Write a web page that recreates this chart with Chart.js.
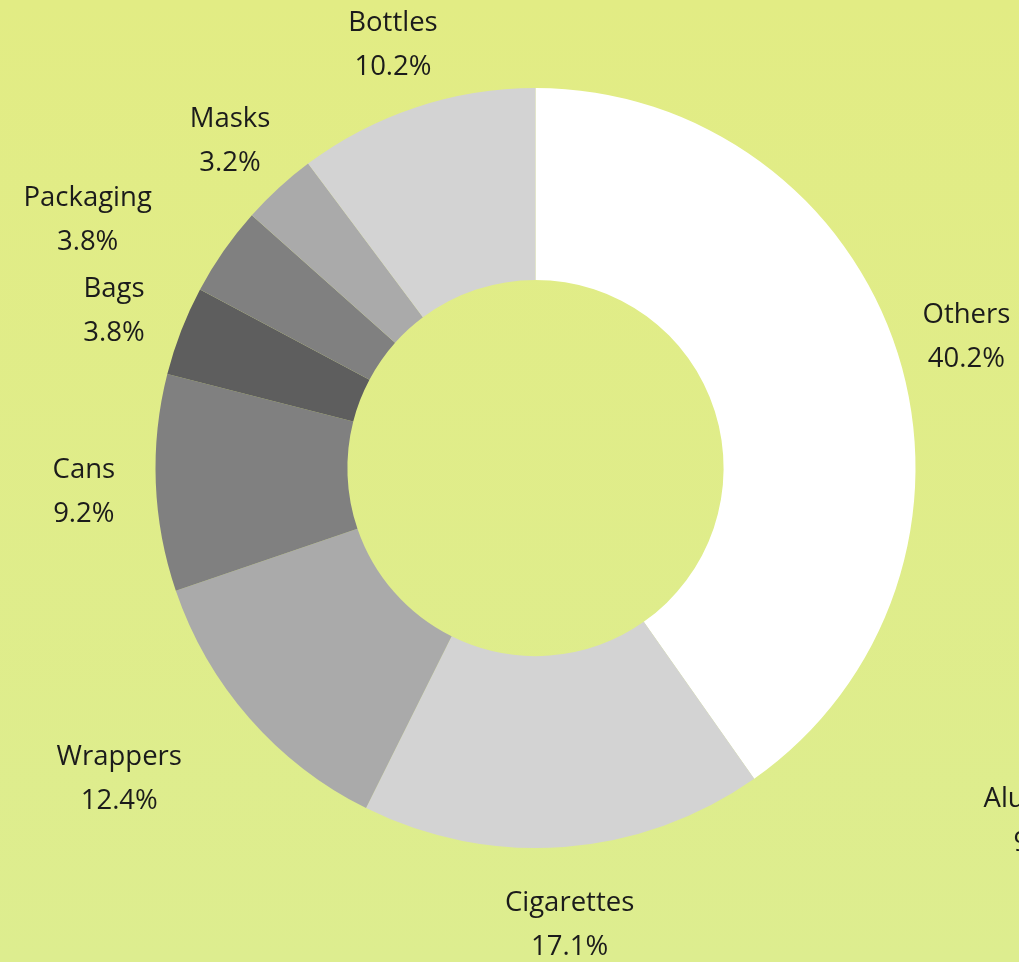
<!DOCTYPE html>
<html lang="en">
<head>
  <meta charset="UTF-8">
  <title>Litter composition</title>
  <script src="https://cdn.jsdelivr.net/npm/chart.js"></script>
  <style>
    html, body {
      margin: 0;
      padding: 0;
      overflow: hidden;
    }
    body {
      width: 1019px;
      height: 962px;
      background: linear-gradient(to bottom, #e2ec84, #dded8f);
    }
    #wrap {
      position: relative;
      width: 1019px;
      height: 962px;
    }
  </style>
</head>
<body>
  <div id="wrap"><canvas id="donut"></canvas></div>

  <script>
    const categories = ['Others', 'Cigarettes', 'Wrappers', 'Cans', 'Bags', 'Packaging', 'Masks', 'Bottles'];
    const shares = [40.2, 17.1, 12.4, 9.2, 3.8, 3.8, 3.2, 10.2];
    const sliceColors = ['#ffffff', '#d3d3d3', '#aaaaaa', '#808080', '#5e5e5e', '#808080', '#aaaaaa', '#d3d3d3'];
    // clipped label at the right edge of the original
    const strayLabel = ['Aluminum', '9.8%'];

    const FONT = '27.5px "Open Sans", Lato, sans-serif';

    // a few labels are pushed sideways in the original to avoid overlap
    const nudge = { Wrappers: [-76, 8], Packaging: [-77, 5] };

    const labelPlugin = {
      id: 'sliceLabels',
      afterDatasetsDraw(chart) {
        const ctx = chart.ctx;
        const meta = chart.getDatasetMeta(0);
        ctx.save();
        ctx.font = FONT;
        ctx.fillStyle = '#1b1b1b';
        ctx.textAlign = 'center';
        ctx.textBaseline = 'middle';
        meta.data.forEach((arc, i) => {
          const mid = (arc.startAngle + arc.endAngle) / 2;
          const r = arc.outerRadius + 72;
          let x = arc.x + Math.cos(mid) * r;
          let y = arc.y + Math.sin(mid) * r + 6;
          const n = nudge[categories[i]];
          if (n) { x += n[0]; y += n[1]; }
          ctx.fillText(categories[i], x, y - 22);
          ctx.fillText(shares[i].toFixed(1) + '%', x, y + 22);
        });
        // stray label, mostly outside the canvas
        ctx.textAlign = 'left';
        const sx = meta.data[0].x + 448;
        const sy = meta.data[0].y + 353;
        ctx.fillText(strayLabel[0], sx, sy - 22);
        ctx.fillText(strayLabel[1], sx + 30, sy + 22);
        ctx.restore();
      }
    };

    new Chart(document.getElementById('donut'), {
      type: 'doughnut',
      data: {
        labels: categories,
        datasets: [{
          data: shares,
          backgroundColor: sliceColors,
          borderWidth: 0,
          hoverOffset: 0
        }]
      },
      options: {
        responsive: true,
        maintainAspectRatio: false,
        animation: false,
        cutout: '49.5%',
        layout: {
          padding: { left: 52, right: 0, top: 88, bottom: 114 }
        },
        plugins: {
          legend: { display: false },
          tooltip: { enabled: false }
        }
      },
      plugins: [labelPlugin]
    });
  </script>
</body>
</html>
